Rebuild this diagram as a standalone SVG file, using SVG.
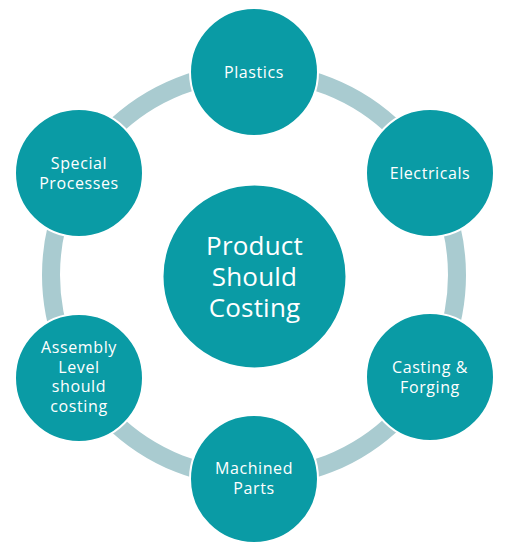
<svg xmlns="http://www.w3.org/2000/svg" width="505" height="548" viewBox="0 0 505 548">
<style>
.node{fill:#0a9ba5;stroke:#ffffff;stroke-width:2}
.lbl{fill:#ffffff;font-family:"Open Sans","Liberation Sans",sans-serif;font-size:16px;font-weight:500;letter-spacing:0.6px;text-anchor:middle;dominant-baseline:central}
.big{font-size:26px;font-weight:400;letter-spacing:0.2px}
</style>
<rect width="505" height="548" fill="#ffffff"/>
<g id="connectors">
<circle cx="254" cy="275" r="203" fill="none" stroke="#a9cbd0" stroke-width="18"/>
</g>
<g id="center"><circle class="node" cx="254.5" cy="276.5" r="92"/>
<text class="lbl big" x="254.5" y="245">Product</text>
<text class="lbl big" x="254.5" y="276">Should</text>
<text class="lbl big" x="254.5" y="307">Costing</text></g>
<g id="plastics"><circle class="node" cx="254" cy="72" r="64"/>
<text class="lbl" x="254" y="72">Plastics</text></g>
<g id="electricals"><circle class="node" cx="430" cy="173" r="64"/>
<text class="lbl" x="430" y="173">Electricals</text></g>
<g id="casting"><circle class="node" cx="430" cy="377" r="64"/>
<text class="lbl" x="430" y="367">Casting &amp;</text>
<text class="lbl" x="430" y="387">Forging</text></g>
<g id="machined"><circle class="node" cx="254" cy="479" r="64"/>
<text class="lbl" x="254" y="468">Machined</text>
<text class="lbl" x="254" y="488">Parts</text></g>
<g id="assembly"><circle class="node" cx="79" cy="378" r="64"/>
<text class="lbl" x="79" y="347">Assembly</text>
<text class="lbl" x="79" y="367">Level</text>
<text class="lbl" x="79" y="386">should</text>
<text class="lbl" x="79" y="406">costing</text></g>
<g id="special"><circle class="node" cx="79" cy="173" r="64"/>
<text class="lbl" x="79" y="163">Special</text>
<text class="lbl" x="79" y="183">Processes</text></g>
</svg>
